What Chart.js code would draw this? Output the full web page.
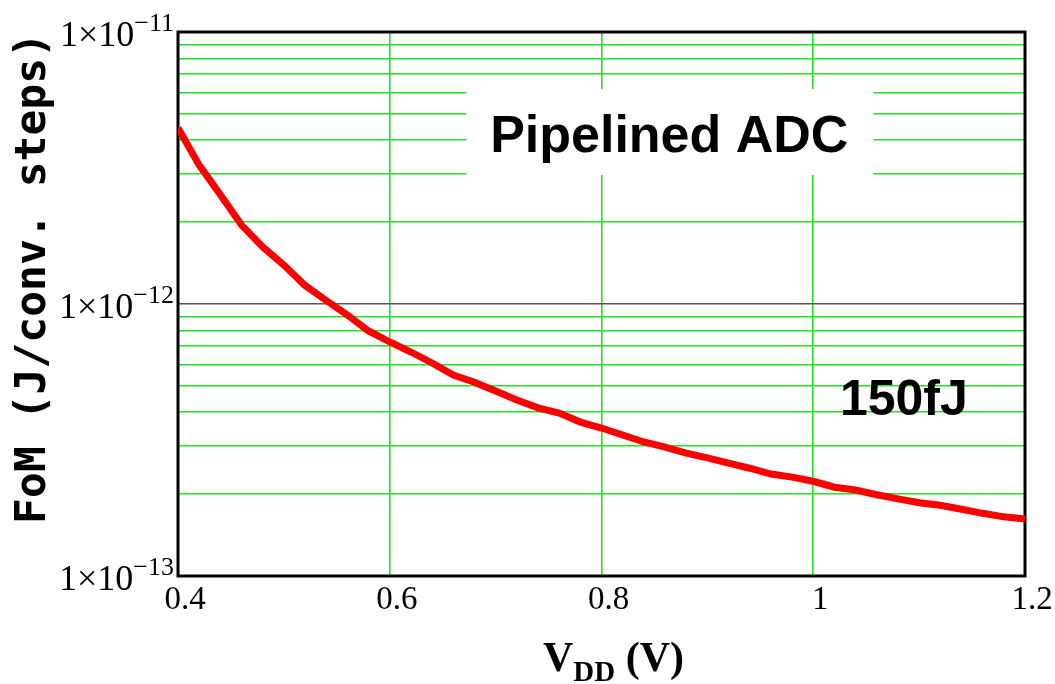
<!DOCTYPE html>
<html>
<head>
<meta charset="utf-8">
<script src="https://cdn.jsdelivr.net/npm/chart.js@4"></script>
<style>
    body { margin: 0; background: #fff; }
    #wrap { width: 1055px; height: 684px; position: relative; }
</style>
</head>
<body>
<div id="wrap"><canvas id="graphique_fom"></canvas></div>
<script>
// supply voltage (V)
const vdd = [0.40, 0.42, 0.44, 0.46, 0.48, 0.50, 0.52, 0.54, 0.56, 0.58,
             0.60, 0.62, 0.64, 0.66, 0.68, 0.70, 0.72, 0.74, 0.76, 0.78,
             0.80, 0.82, 0.84, 0.86, 0.88, 0.90, 0.92, 0.94, 0.96, 0.98,
             1.00, 1.02, 1.04, 1.06, 1.08, 1.10, 1.12, 1.14, 1.16, 1.18, 1.20];

// figure of merit (J/conv. step)
const fom = [4.44e-12, 3.24e-12, 2.52e-12, 1.95e-12, 1.62e-12, 1.39e-12, 1.17e-12, 1.03e-12, 9.11e-13, 7.96e-13,
             7.25e-13, 6.66e-13, 6.07e-13, 5.48e-13, 5.16e-13, 4.79e-13, 4.44e-13, 4.15e-13, 3.97e-13, 3.68e-13,
             3.50e-13, 3.30e-13, 3.11e-13, 2.98e-13, 2.83e-13, 2.72e-13, 2.60e-13, 2.49e-13, 2.37e-13, 2.31e-13,
             2.23e-13, 2.12e-13, 2.07e-13, 1.99e-13, 1.92e-13, 1.86e-13, 1.82e-13, 1.76e-13, 1.70e-13, 1.65e-13, 1.62e-13];

const xTicks = [0.4, 0.6, 0.8, 1.0, 1.2];
const yDecades = [1e-13, 1e-12, 1e-11];
const yExponents = ['\u221213', '\u221212', '\u221211'];
const yMinorSteps = [2, 3, 4, 5, 6, 7, 8, 9];

const GREEN = 'rgb(30,228,30)';

const extras = {
    id: 'extras',
    beforeDatasetsDraw(chart) {
        const { ctx, chartArea: a } = chart;
        ctx.save();
        ctx.strokeStyle = '#000';
        ctx.lineWidth = 3;
        ctx.strokeRect(a.left, a.top, a.right - a.left, a.bottom - a.top);
        ctx.restore();
    },
    afterDatasetsDraw(chart) {
        const { ctx } = chart;
        const sx = chart.scales.x, sy = chart.scales.y;
        ctx.save();
        ctx.textAlign = 'center';
        ctx.textBaseline = 'alphabetic';

        // "Pipelined ADC" with its white box
        let cx = sx.getPixelForValue(0.864);
        let by = sy.getPixelForValue(3.62e-12);
        ctx.fillStyle = '#fff';
        ctx.fillRect(cx - 203, by - 63, 407, 86);
        ctx.fillStyle = '#000';
        ctx.font = 'bold 52px "Liberation Sans", Arial, sans-serif';
        ctx.fillText('Pipelined ADC', cx, by);

        // "150fJ"
        cx = sx.getPixelForValue(1.0856);
        by = sy.getPixelForValue(3.91e-13);
        ctx.font = 'bold 50px "Liberation Sans", Arial, sans-serif';
        ctx.fillText('150fJ', cx, by);
        ctx.restore();
    },
    afterDraw(chart) {
        const { ctx, chartArea: a } = chart;
        const sy = chart.scales.y;
        ctx.save();
        ctx.fillStyle = '#000';
        ctx.textBaseline = 'alphabetic';
        ctx.textAlign = 'left';

        // y tick labels 1×10^n
        const right = a.left - 4;
        yDecades.forEach((v, i) => {
            const y = sy.getPixelForValue(v);
            ctx.font = '26px "Liberation Serif", serif';
            const supW = ctx.measureText(yExponents[i]).width;
            ctx.fillText(yExponents[i], right - supW, y - 1);
            ctx.font = '36px "Liberation Serif", serif';
            const mainW = ctx.measureText('1\u00d710').width;
            ctx.fillText('1\u00d710', right - supW - mainW, y + 14);
        });

        // x title V_DD (V)
        const big = 'bold 42px "Liberation Serif", serif';
        const small = 'bold 29px "Liberation Serif", serif';
        ctx.font = big;
        const wV = ctx.measureText('V').width;
        const wRest = ctx.measureText(' (V)').width;
        ctx.font = small;
        const wDD = ctx.measureText('DD').width;
        let x = (a.left + a.right) / 2 + 12 - (wV + wDD + wRest) / 2;
        const base = 671;
        ctx.font = big;
        ctx.fillText('V', x, base);
        x += wV;
        ctx.font = small;
        ctx.fillText('DD', x, base + 10);
        x += wDD;
        ctx.font = big;
        ctx.fillText(' (V)', x, base);
        ctx.restore();
    }
};

const ctx = document.getElementById('graphique_fom').getContext('2d');
new Chart(ctx, {
    type: 'line',
    data: {
        datasets: [{
            data: vdd.map((v, i) => ({ x: v, y: fom[i] })),
            borderColor: '#ff0000',
            borderWidth: 7,
            pointRadius: 0,
            fill: false,
            tension: 0
        }]
    },
    options: {
        responsive: true,
        maintainAspectRatio: false,
        animation: false,
        layout: { padding: { top: 32, right: 30, left: 0, bottom: 0 } },
        plugins: { legend: { display: false }, tooltip: { enabled: false } },
        scales: {
            x: {
                type: 'linear',
                min: 0.4,
                max: 1.2,
                afterBuildTicks: s => { s.ticks = xTicks.map(v => ({ value: v })); },
                afterFit: s => { s.height = 108; },
                border: { display: false },
                grid: {
                    drawTicks: false,
                    color: c => (c.tick.value > 0.41 && c.tick.value < 1.19) ? GREEN : 'rgba(0,0,0,0)',
                    lineWidth: 1.6
                },
                ticks: {
                    color: '#000',
                    padding: 5,
                    labelOffset: 7,
                    maxRotation: 0,
                    font: { family: '"Liberation Serif", serif', size: 33 },
                    callback: v => String(Number(v.toFixed(1)))
                }
            },
            y: {
                type: 'logarithmic',
                min: 1e-13,
                max: 1e-11,
                afterBuildTicks: s => {
                    const t = [];
                    yDecades.forEach((d, i) => {
                        t.push({ value: d, major: true });
                        if (i < yDecades.length - 1) {
                            yMinorSteps.forEach(m => t.push({ value: m * d }));
                        }
                    });
                    s.ticks = t;
                },
                afterFit: s => { s.width = 178; },
                border: { display: false },
                grid: {
                    drawTicks: false,
                    color: c => {
                        const v = c.tick.value;
                        if (Math.abs(v - 1e-12) < 1e-15) return '#555';
                        if (v < 1.01e-13 || v > 0.99e-11) return 'rgba(0,0,0,0)';
                        return GREEN;
                    },
                    lineWidth: 1.6
                },
                ticks: { display: false },
                title: {
                    display: true,
                    text: 'FoM (J/conv. steps)',
                    align: 'end',
                    color: '#000',
                    padding: { top: 8, bottom: 0 },
                    font: { family: '"DejaVu Sans Mono", monospace', size: 43, weight: 'bold' }
                }
            }
        }
    },
    plugins: [extras]
});
</script>
</body>
</html>
